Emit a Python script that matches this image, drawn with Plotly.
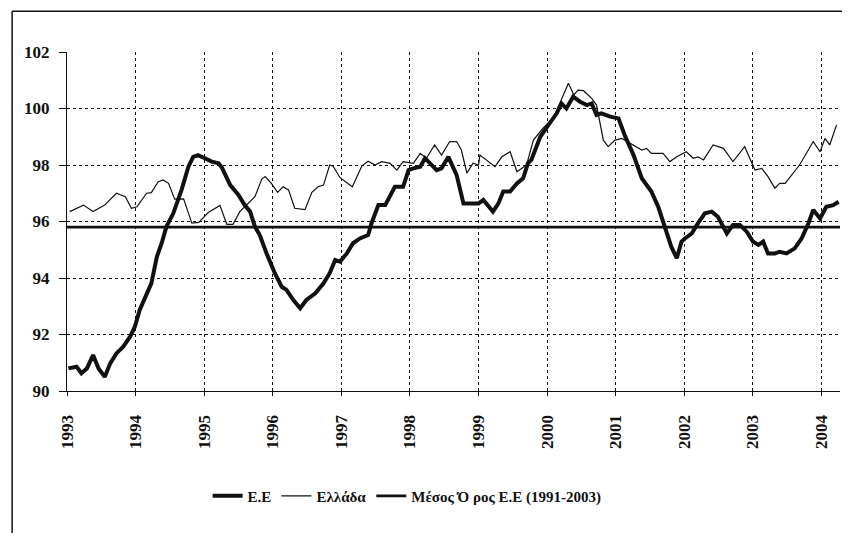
import plotly.graph_objects as go

# Ε.Ε (thick line): decimal year, index value
ee_t = [1993.02, 1993.14, 1993.21, 1993.29, 1993.38, 1993.46, 1993.55, 1993.63, 1993.72, 1993.82,
        1993.92, 1993.99, 1994.06, 1994.14, 1994.23, 1994.31, 1994.38, 1994.45, 1994.55, 1994.67,
        1994.77, 1994.84, 1994.91, 1995.01, 1995.11, 1995.21, 1995.26, 1995.38, 1995.50, 1995.59,
        1995.67, 1995.74, 1995.81, 1995.91, 1996.03, 1996.13, 1996.20, 1996.30, 1996.40, 1996.49,
        1996.62, 1996.74, 1996.83, 1996.91, 1996.98, 1997.08, 1997.17, 1997.27, 1997.39, 1997.44,
        1997.54, 1997.64, 1997.78, 1997.90, 1997.98, 1998.05, 1998.15, 1998.22, 1998.29, 1998.39,
        1998.46, 1998.56, 1998.68, 1998.78, 1998.87, 1999.00, 1999.07, 1999.21, 1999.29, 1999.36,
        1999.46, 1999.56, 1999.65, 1999.72, 1999.77, 1999.90, 2000.02, 2000.14, 2000.21, 2000.28,
        2000.38, 2000.48, 2000.58, 2000.65, 2000.72, 2000.79, 2000.92, 2001.04, 2001.13, 2001.26,
        2001.38, 2001.52, 2001.62, 2001.72, 2001.81, 2001.89, 2001.96, 2002.01, 2002.11, 2002.20,
        2002.30, 2002.40, 2002.49, 2002.62, 2002.71, 2002.81, 2002.91, 2003.00, 2003.08, 2003.15,
        2003.22, 2003.32, 2003.39, 2003.49, 2003.61, 2003.71, 2003.81, 2003.88, 2003.98, 2004.07,
        2004.17, 2004.25]
ee_v = [90.80, 90.86, 90.63, 90.80, 91.27, 90.80, 90.50, 90.98, 91.33, 91.57,
        91.92, 92.28, 92.87, 93.34, 93.81, 94.75, 95.23, 95.82, 96.29, 97.12,
        97.94, 98.29, 98.35, 98.24, 98.12, 98.06, 97.90, 97.29, 96.94, 96.58,
        96.35, 95.82, 95.52, 94.87, 94.17, 93.69, 93.58, 93.22, 92.93, 93.22,
        93.46, 93.81, 94.17, 94.64, 94.58, 94.87, 95.23, 95.40, 95.52, 95.94,
        96.58, 96.58, 97.23, 97.23, 97.82, 97.88, 97.94, 98.24, 98.06, 97.82,
        97.88, 98.29, 97.65, 96.64, 96.64, 96.64, 96.76, 96.35, 96.64, 97.06,
        97.06, 97.35, 97.53, 98.06, 98.18, 99.00, 99.42, 99.83, 100.18, 100.00,
        100.42, 100.24, 100.12, 100.18, 99.77, 99.83, 99.71, 99.65, 99.06, 98.35,
        97.53, 97.06, 96.52, 95.82, 95.11, 94.70, 95.29, 95.40, 95.58, 95.94,
        96.29, 96.35, 96.17, 95.58, 95.88, 95.88, 95.64, 95.29, 95.17, 95.29,
        94.87, 94.87, 94.93, 94.87, 95.05, 95.40, 95.94, 96.41, 96.11, 96.52,
        96.58, 96.70]

# Ελλάδα (thin line)
gr_t = [1993.04, 1993.24, 1993.38, 1993.55, 1993.72, 1993.85, 1993.94, 1994.02, 1994.16, 1994.23,
        1994.33, 1994.40, 1994.48, 1994.57, 1994.70, 1994.82, 1994.92, 1995.06, 1995.23, 1995.33,
        1995.42, 1995.52, 1995.74, 1995.84, 1995.89, 1995.98, 1996.07, 1996.15, 1996.23, 1996.32,
        1996.47, 1996.57, 1996.66, 1996.74, 1996.83, 1996.88, 1996.98, 1997.16, 1997.30, 1997.39,
        1997.49, 1997.59, 1997.71, 1997.81, 1997.90, 1998.05, 1998.15, 1998.24, 1998.36, 1998.46,
        1998.58, 1998.68, 1998.75, 1998.83, 1998.92, 1999.00, 1999.02, 1999.14, 1999.24, 1999.34,
        1999.46, 1999.56, 1999.70, 1999.80, 1999.94, 2000.09, 2000.21, 2000.31, 2000.39, 2000.45,
        2000.53, 2000.65, 2000.72, 2000.82, 2000.89, 2000.99, 2001.09, 2001.21, 2001.38, 2001.45,
        2001.52, 2001.69, 2001.79, 2001.89, 2002.03, 2002.13, 2002.20, 2002.28, 2002.42, 2002.57,
        2002.71, 2002.88, 2003.03, 2003.13, 2003.22, 2003.32, 2003.39, 2003.47, 2003.59, 2003.68,
        2003.88, 2003.98, 2004.05, 2004.12, 2004.22]
gr_v = [96.35, 96.58, 96.35, 96.58, 97.00, 96.88, 96.47, 96.52, 97.00, 97.02,
        97.41, 97.47, 97.35, 96.79, 96.80, 95.94, 95.97, 96.32, 96.57, 95.90,
        95.90, 96.35, 96.88, 97.50, 97.59, 97.35, 97.03, 97.23, 97.12, 96.47,
        96.42, 97.03, 97.23, 97.29, 98.00, 97.96, 97.55, 97.23, 97.97, 98.13,
        98.00, 98.12, 98.06, 97.82, 98.12, 98.06, 98.41, 98.24, 98.71, 98.35,
        98.83, 98.83, 98.53, 97.71, 98.06, 98.00, 98.35, 98.12, 97.94, 98.29,
        98.47, 97.76, 98.00, 98.88, 99.30, 99.65, 100.30, 100.89, 100.48, 100.65,
        100.63, 100.36, 100.12, 98.88, 98.65, 98.88, 98.94, 98.77, 98.53, 98.59,
        98.41, 98.41, 98.12, 98.29, 98.47, 98.24, 98.29, 98.18, 98.71, 98.59,
        98.12, 98.65, 97.82, 97.88, 97.59, 97.18, 97.35, 97.35, 97.71, 98.00,
        98.83, 98.47, 98.94, 98.71, 99.42]

# Μέσος Όρος Ε.Ε (1991-2003)
mean_t = [1993.0, 2004.27]
mean_v = [95.8, 95.8]

year_ticks = list(range(1993, 2005))
y_ticks = [90, 92, 94, 96, 98, 100, 102]

ink = "#111111"
serif = "Liberation Serif, Times New Roman, serif"

fig = go.Figure()
fig.add_trace(go.Scatter(x=ee_t, y=ee_v, mode="lines", name="Ε.Ε",
                         line=dict(color=ink, width=4)))
fig.add_trace(go.Scatter(x=gr_t, y=gr_v, mode="lines", name="Ελλάδα",
                         line=dict(color=ink, width=1.2)))
fig.add_trace(go.Scatter(x=mean_t, y=mean_v, mode="lines", name="Μέσος Ό ρος Ε.Ε (1991-2003)",
                         line=dict(color=ink, width=2.8)))

fig.update_layout(
    width=850, height=533,
    margin=dict(l=59, r=18, t=44, b=150),
    paper_bgcolor="white", plot_bgcolor="white",
    font=dict(family=serif, color=ink),
    showlegend=True,
    legend=dict(orientation="h", x=0.44, xanchor="center", y=-0.31, yanchor="middle",
                font=dict(family=serif, size=15, color=ink, weight="bold"), itemwidth=30,
                tracegroupgap=0, bgcolor="rgba(0,0,0,0)"),
    xaxis=dict(range=[1993.0, 2004.27], tickmode="array", tickvals=year_ticks,
               ticktext=[f"<b>{y}</b>" for y in year_ticks], tickangle=-90,
               tickfont=dict(family=serif, size=17, color=ink), ticklabelstandoff=12,
               showgrid=True, gridcolor=ink, griddash="dot", gridwidth=1.3,
               showline=True, linecolor=ink, linewidth=1.2, ticks="outside",
               ticklen=4, tickcolor=ink, zeroline=False),
    yaxis=dict(range=[90, 102], tickmode="array", tickvals=y_ticks,
               ticktext=[f"<b>{v}</b>" for v in y_ticks],
               tickfont=dict(family=serif, size=17, color=ink), ticklabelstandoff=6,
               showgrid=True, gridcolor=ink, griddash="dot", gridwidth=1.3,
               showline=True, linecolor=ink, linewidth=1.2, ticks="outside",
               ticklen=7, tickcolor=ink, zeroline=False),
)

# outer frame (left and top border of the scanned figure)
fig.add_shape(type="line", xref="paper", yref="paper", x0=-0.071, x1=-0.071, y0=-0.45, y1=1.12,
              line=dict(color=ink, width=1.5))
fig.add_shape(type="line", xref="paper", yref="paper", x0=-0.071, x1=1.03, y0=1.12, y1=1.12,
              line=dict(color=ink, width=1.5))

fig.write_html("out.html")
